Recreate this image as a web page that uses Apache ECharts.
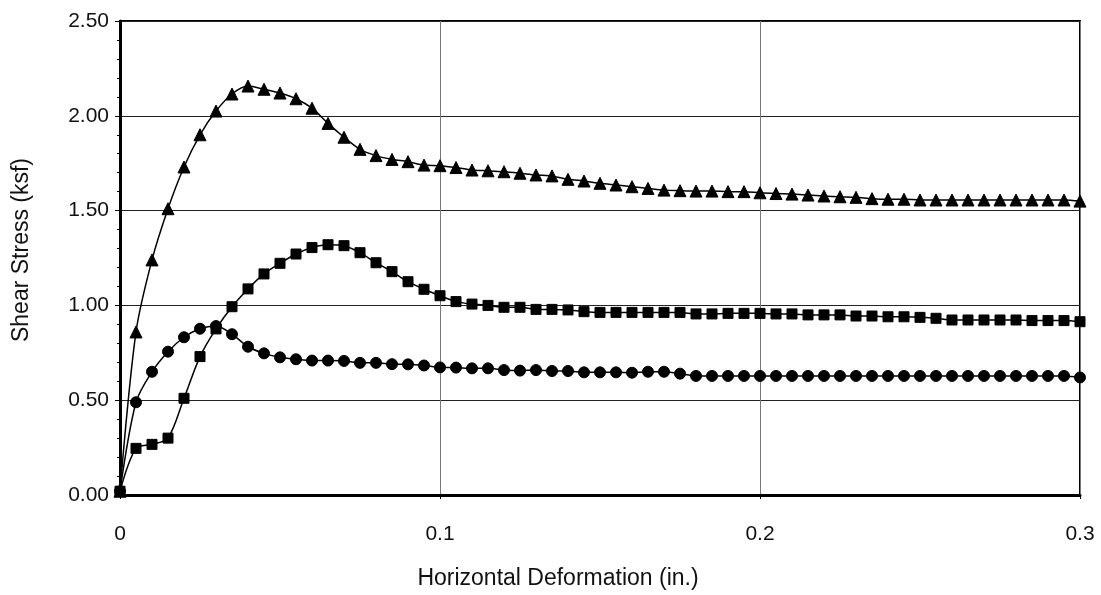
<!DOCTYPE html>
<html><head><meta charset="utf-8">
<script src="https://cdn.jsdelivr.net/npm/echarts@6/dist/echarts.min.js"></script>
<style>html,body{margin:0;padding:0;background:#fff}#c{width:1101px;height:595px}</style>
</head><body><div id="c"></div>
<script>
// Horizontal deformation (in.), one point every 0.005 in.
var deformation = [0,0.005,0.01,0.015,0.02,0.025,0.03,0.035,0.04,0.045,0.05,0.055,0.06,0.065,0.07,0.075,0.08,0.085,0.09,0.095,0.1,0.105,0.11,0.115,0.12,0.125,0.13,0.135,0.14,0.145,0.15,0.155,0.16,0.165,0.17,0.175,0.18,0.185,0.19,0.195,0.2,0.205,0.21,0.215,0.22,0.225,0.23,0.235,0.24,0.245,0.25,0.255,0.26,0.265,0.27,0.275,0.28,0.285,0.29,0.295,0.3];
var stressTriangle = [0.02,0.86,1.24,1.51,1.73,1.90,2.025,2.115,2.157,2.14,2.12,2.09,2.04,1.96,1.887,1.823,1.79,1.77,1.758,1.74,1.737,1.727,1.714,1.71,1.705,1.697,1.688,1.683,1.665,1.656,1.644,1.635,1.626,1.617,1.608,1.605,1.603,1.603,1.60,1.60,1.594,1.59,1.587,1.582,1.577,1.573,1.57,1.563,1.56,1.56,1.556,1.556,1.556,1.556,1.556,1.556,1.556,1.556,1.556,1.556,1.55];
var stressSquare = [0.02,0.246,0.267,0.30,0.51,0.73,0.876,0.993,1.087,1.166,1.222,1.271,1.305,1.32,1.315,1.278,1.225,1.178,1.125,1.085,1.051,1.02,1.007,1.0,0.99,0.99,0.979,0.979,0.976,0.967,0.963,0.963,0.963,0.963,0.963,0.963,0.955,0.955,0.958,0.958,0.958,0.955,0.955,0.95,0.95,0.95,0.944,0.944,0.94,0.94,0.937,0.932,0.923,0.923,0.923,0.923,0.923,0.92,0.92,0.92,0.914];
var stressCircle = [0.02,0.489,0.65,0.756,0.832,0.877,0.891,0.848,0.782,0.747,0.726,0.716,0.709,0.709,0.707,0.697,0.697,0.69,0.689,0.683,0.673,0.672,0.668,0.668,0.659,0.656,0.659,0.654,0.654,0.647,0.647,0.647,0.645,0.65,0.65,0.64,0.628,0.628,0.628,0.628,0.628,0.628,0.628,0.628,0.628,0.628,0.628,0.628,0.628,0.628,0.628,0.628,0.628,0.628,0.628,0.628,0.628,0.628,0.628,0.628,0.62];
var xTicks = [0, 0.1, 0.2, 0.3];
var yTicks = [0, 0.5, 1.0, 1.5, 2.0, 2.5];

function pairs(ys){ return deformation.map(function(x,i){ return [x, ys[i]]; }); }
function mk(name, ys, symbol, size){
  return {
    name: name, type: 'line', data: pairs(ys), smooth: 0.3,
    symbol: symbol, symbolSize: size, showSymbol: true,
    lineStyle: {color: '#000', width: 1.5},
    itemStyle: {color: '#000', borderColor: '#000'},
    animation: false, z: 5
  };
}
var FONT = 'Liberation Sans';
var chart = echarts.init(document.getElementById('c'), null, {renderer: 'canvas'});
chart.setOption({
  backgroundColor: '#fff',
  animation: false,
  grid: {left: 120, right: 21, top: 21, bottom: 100, show: true, borderColor: '#000', borderWidth: 2, containLabel: false},
  xAxis: {
    type: 'value', min: 0, max: 0.3, interval: 0.1,
    name: 'Horizontal Deformation (in.)', nameLocation: 'middle', nameGap: 72,
    nameTextStyle: {fontFamily: FONT, fontSize: 23, color: '#111', padding: [0, 84, 0, 0]},
    axisLine: {show: true, onZero: false, lineStyle: {color: '#000', width: 3}},
    axisTick: {show: true, length: 4, lineStyle: {color: '#000'}},
    axisLabel: {fontFamily: FONT, fontSize: 21, color: '#111', margin: 29,
      formatter: function(v){ return xTicks.indexOf(+v.toFixed(2)) >= 0 ? String(+v.toFixed(1)) : ''; }},
    splitLine: {show: true, lineStyle: {color: '#777', width: 1}}
  },
  yAxis: {
    type: 'value', min: 0, max: 2.5, interval: 0.5,
    name: 'Shear Stress (ksf)', nameLocation: 'middle', nameGap: 87, nameRotate: 90,
    nameTextStyle: {fontFamily: FONT, fontSize: 23, color: '#111', padding: [0, 0, 0, 16]},
    axisLine: {show: true, lineStyle: {color: '#000', width: 3}},
    axisTick: {show: true, length: 5, lineStyle: {color: '#000'}},
    minorTick: {show: true, splitNumber: 5, length: 3, lineStyle: {color: '#000'}},
    axisLabel: {fontFamily: FONT, fontSize: 21, color: '#111', margin: 11,
      formatter: function(v){ return yTicks.indexOf(+v.toFixed(2)) >= 0 ? v.toFixed(2) : ''; }},
    splitLine: {show: true, lineStyle: {color: '#222', width: 1}}
  },
  series: [
    mk('Triangle', stressTriangle, 'triangle', 12),
    mk('Square', stressSquare, 'rect', 10),
    mk('Circle', stressCircle, 'circle', 11)
  ]
});
</script></body></html>
